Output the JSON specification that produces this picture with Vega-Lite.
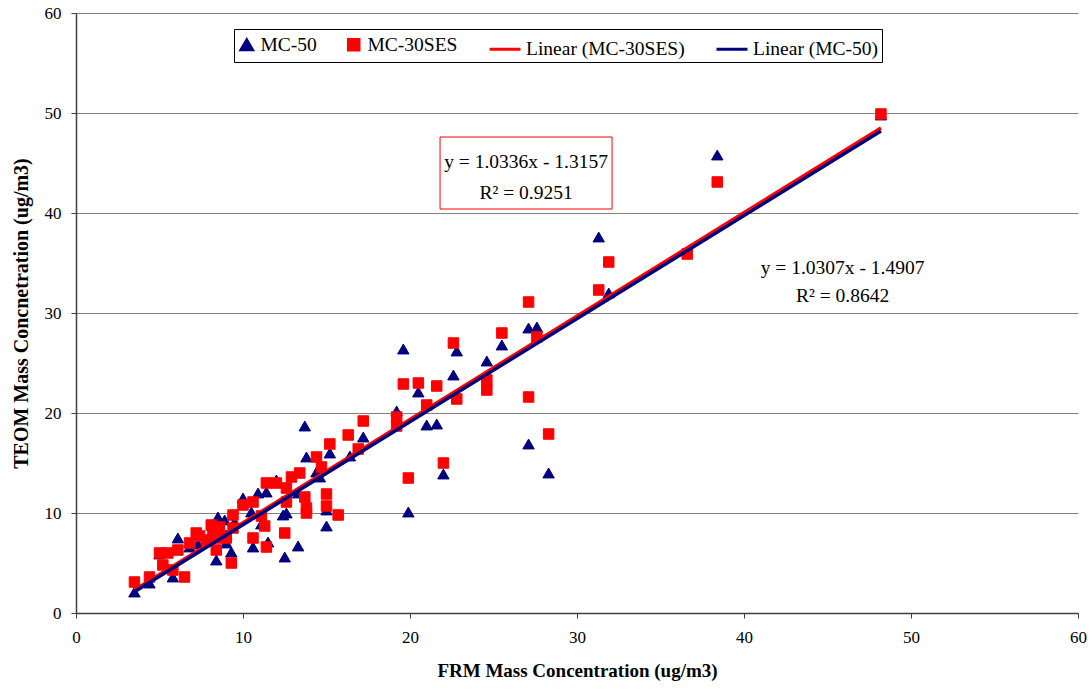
{
  "$schema": "https://vega.github.io/schema/vega-lite/v6.json",
  "width": 1002,
  "height": 600,
  "autosize": "none",
  "padding": {"left": 76, "top": 13, "right": 14, "bottom": 79},
  "background": "white",
  "config": {
    "font": "Liberation Serif",
    "view": {"stroke": null},
    "legend": {
      "orient": "none",
      "legendX": 158,
      "legendY": 16,
      "direction": "horizontal",
      "title": null,
      "strokeColor": "black",
      "fillColor": "white",
      "padding": 3,
      "labelFont": "Liberation Serif",
      "labelFontSize": 19.5,
      "labelColor": "black",
      "labelOffset": 4,
      "columnPadding": 25,
      "symbolStrokeWidth": 3,
      "symbolOpacity": 1
    }
  },
  "datasets": {
    "points": [
      {"series": "MC-50", "frm": 3.5, "teom": 2.1},
      {"series": "MC-50", "frm": 4.4, "teom": 3.0},
      {"series": "MC-50", "frm": 5.0, "teom": 5.9},
      {"series": "MC-50", "frm": 5.8, "teom": 3.6},
      {"series": "MC-50", "frm": 6.1, "teom": 7.5},
      {"series": "MC-50", "frm": 6.8, "teom": 6.6},
      {"series": "MC-50", "frm": 7.3, "teom": 6.9},
      {"series": "MC-50", "frm": 8.5, "teom": 9.6},
      {"series": "MC-50", "frm": 8.9, "teom": 9.3},
      {"series": "MC-50", "frm": 9.5, "teom": 9.1},
      {"series": "MC-50", "frm": 8.4, "teom": 5.3},
      {"series": "MC-50", "frm": 9.3, "teom": 6.1},
      {"series": "MC-50", "frm": 9.0, "teom": 7.0},
      {"series": "MC-50", "frm": 9.0, "teom": 7.8},
      {"series": "MC-50", "frm": 10.0, "teom": 11.5},
      {"series": "MC-50", "frm": 10.5, "teom": 10.1},
      {"series": "MC-50", "frm": 10.6, "teom": 6.6},
      {"series": "MC-50", "frm": 11.1, "teom": 8.9},
      {"series": "MC-50", "frm": 10.9, "teom": 12.0},
      {"series": "MC-50", "frm": 11.4, "teom": 12.1},
      {"series": "MC-50", "frm": 11.5, "teom": 7.1},
      {"series": "MC-50", "frm": 12.0, "teom": 13.3},
      {"series": "MC-50", "frm": 12.4, "teom": 9.8},
      {"series": "MC-50", "frm": 12.6, "teom": 10.0},
      {"series": "MC-50", "frm": 12.5, "teom": 5.6},
      {"series": "MC-50", "frm": 13.3, "teom": 12.0},
      {"series": "MC-50", "frm": 13.3, "teom": 6.7},
      {"series": "MC-50", "frm": 13.7, "teom": 18.7},
      {"series": "MC-50", "frm": 13.8, "teom": 15.6},
      {"series": "MC-50", "frm": 14.4, "teom": 14.1},
      {"series": "MC-50", "frm": 14.6, "teom": 13.6},
      {"series": "MC-50", "frm": 15.0, "teom": 10.3},
      {"series": "MC-50", "frm": 15.0, "teom": 8.7},
      {"series": "MC-50", "frm": 15.2, "teom": 16.0},
      {"series": "MC-50", "frm": 16.4, "teom": 15.7},
      {"series": "MC-50", "frm": 17.2, "teom": 17.6},
      {"series": "MC-50", "frm": 19.2, "teom": 20.2},
      {"series": "MC-50", "frm": 19.6, "teom": 26.4},
      {"series": "MC-50", "frm": 19.9, "teom": 10.1},
      {"series": "MC-50", "frm": 20.5, "teom": 22.1},
      {"series": "MC-50", "frm": 21.0, "teom": 18.8},
      {"series": "MC-50", "frm": 21.6, "teom": 18.9},
      {"series": "MC-50", "frm": 22.0, "teom": 13.9},
      {"series": "MC-50", "frm": 22.8, "teom": 26.2},
      {"series": "MC-50", "frm": 22.6, "teom": 23.8},
      {"series": "MC-50", "frm": 24.6, "teom": 25.2},
      {"series": "MC-50", "frm": 25.5, "teom": 26.8},
      {"series": "MC-50", "frm": 27.1, "teom": 16.9},
      {"series": "MC-50", "frm": 27.1, "teom": 28.5},
      {"series": "MC-50", "frm": 27.6, "teom": 28.6},
      {"series": "MC-50", "frm": 28.3, "teom": 14.0},
      {"series": "MC-50", "frm": 31.3, "teom": 37.6},
      {"series": "MC-50", "frm": 31.9, "teom": 32.0},
      {"series": "MC-50", "frm": 38.4, "teom": 45.8},
      {"series": "MC-50", "frm": 48.2, "teom": 49.8},
      {"series": "MC-30SES", "frm": 3.5, "teom": 3.1},
      {"series": "MC-30SES", "frm": 4.4, "teom": 3.6},
      {"series": "MC-30SES", "frm": 5.0, "teom": 6.0},
      {"series": "MC-30SES", "frm": 5.5, "teom": 6.0},
      {"series": "MC-30SES", "frm": 5.2, "teom": 4.8},
      {"series": "MC-30SES", "frm": 5.8, "teom": 4.3},
      {"series": "MC-30SES", "frm": 6.5, "teom": 3.6},
      {"series": "MC-30SES", "frm": 6.1, "teom": 6.3},
      {"series": "MC-30SES", "frm": 6.8, "teom": 7.0},
      {"series": "MC-30SES", "frm": 7.2, "teom": 8.0},
      {"series": "MC-30SES", "frm": 7.4, "teom": 7.7},
      {"series": "MC-30SES", "frm": 7.8, "teom": 7.3},
      {"series": "MC-30SES", "frm": 8.1, "teom": 8.8},
      {"series": "MC-30SES", "frm": 8.2, "teom": 8.0},
      {"series": "MC-30SES", "frm": 8.5, "teom": 7.5},
      {"series": "MC-30SES", "frm": 8.4, "teom": 6.3},
      {"series": "MC-30SES", "frm": 8.6, "teom": 8.6},
      {"series": "MC-30SES", "frm": 9.3, "teom": 5.0},
      {"series": "MC-30SES", "frm": 9.4, "teom": 9.8},
      {"series": "MC-30SES", "frm": 9.4, "teom": 8.5},
      {"series": "MC-30SES", "frm": 9.0, "teom": 7.5},
      {"series": "MC-30SES", "frm": 10.0, "teom": 10.8},
      {"series": "MC-30SES", "frm": 10.6, "teom": 11.1},
      {"series": "MC-30SES", "frm": 10.6, "teom": 7.5},
      {"series": "MC-30SES", "frm": 11.1, "teom": 9.7},
      {"series": "MC-30SES", "frm": 11.3, "teom": 8.7},
      {"series": "MC-30SES", "frm": 11.4, "teom": 13.0},
      {"series": "MC-30SES", "frm": 11.4, "teom": 6.6},
      {"series": "MC-30SES", "frm": 12.0, "teom": 13.0},
      {"series": "MC-30SES", "frm": 12.5, "teom": 8.0},
      {"series": "MC-30SES", "frm": 12.6, "teom": 12.5},
      {"series": "MC-30SES", "frm": 12.6, "teom": 11.1},
      {"series": "MC-30SES", "frm": 12.9, "teom": 13.6},
      {"series": "MC-30SES", "frm": 13.4, "teom": 14.0},
      {"series": "MC-30SES", "frm": 13.7, "teom": 11.6},
      {"series": "MC-30SES", "frm": 13.8, "teom": 10.5},
      {"series": "MC-30SES", "frm": 13.8, "teom": 10.0},
      {"series": "MC-30SES", "frm": 14.4, "teom": 15.6},
      {"series": "MC-30SES", "frm": 14.7, "teom": 14.6},
      {"series": "MC-30SES", "frm": 15.0, "teom": 11.9},
      {"series": "MC-30SES", "frm": 15.0, "teom": 10.7},
      {"series": "MC-30SES", "frm": 15.2, "teom": 16.9},
      {"series": "MC-30SES", "frm": 15.7, "teom": 9.8},
      {"series": "MC-30SES", "frm": 16.3, "teom": 17.8},
      {"series": "MC-30SES", "frm": 16.9, "teom": 16.4},
      {"series": "MC-30SES", "frm": 17.2, "teom": 19.2},
      {"series": "MC-30SES", "frm": 19.2, "teom": 19.6},
      {"series": "MC-30SES", "frm": 19.2, "teom": 18.7},
      {"series": "MC-30SES", "frm": 19.6, "teom": 22.9},
      {"series": "MC-30SES", "frm": 19.9, "teom": 13.5},
      {"series": "MC-30SES", "frm": 20.5, "teom": 23.0},
      {"series": "MC-30SES", "frm": 21.0, "teom": 20.8},
      {"series": "MC-30SES", "frm": 21.6, "teom": 22.7},
      {"series": "MC-30SES", "frm": 22.0, "teom": 15.0},
      {"series": "MC-30SES", "frm": 22.6, "teom": 27.0},
      {"series": "MC-30SES", "frm": 22.8, "teom": 21.4},
      {"series": "MC-30SES", "frm": 24.6, "teom": 23.3},
      {"series": "MC-30SES", "frm": 24.6, "teom": 22.3},
      {"series": "MC-30SES", "frm": 25.5, "teom": 28.0},
      {"series": "MC-30SES", "frm": 27.1, "teom": 21.6},
      {"series": "MC-30SES", "frm": 27.1, "teom": 31.1},
      {"series": "MC-30SES", "frm": 27.6, "teom": 27.6},
      {"series": "MC-30SES", "frm": 28.3, "teom": 17.9},
      {"series": "MC-30SES", "frm": 31.3, "teom": 32.3},
      {"series": "MC-30SES", "frm": 31.9, "teom": 35.1},
      {"series": "MC-30SES", "frm": 36.6, "teom": 35.9},
      {"series": "MC-30SES", "frm": 38.4, "teom": 43.1},
      {"series": "MC-30SES", "frm": 48.2, "teom": 49.9}
    ],
    "trend": [
      {"series": "Linear (MC-30SES)", "frm": 3.5, "teom": 2.30},
      {"series": "Linear (MC-30SES)", "frm": 48.2, "teom": 48.50},
      {"series": "Linear (MC-50)", "frm": 3.5, "teom": 2.12},
      {"series": "Linear (MC-50)", "frm": 48.2, "teom": 48.19}
    ],
    "one": [{}]
  },
  "layer": [
    {
      "data": {"name": "points"},
      "mark": {"type": "point", "filled": true, "opacity": 1, "strokeWidth": 1},
      "encoding": {
        "x": {
          "field": "frm", "type": "quantitative",
          "scale": {"domain": [0, 60], "nice": false, "zero": false},
          "axis": {
            "title": "FRM Mass Concentration (ug/m3)",
            "values": [0, 10, 20, 30, 40, 50, 60],
            "grid": false,
            "domainColor": "#404040", "domainWidth": 1.5,
            "tickColor": "#404040", "tickSize": 5,
            "labelFont": "Liberation Serif", "labelFontSize": 17, "labelColor": "black",
            "labelPadding": 11, "labelFlush": false,
            "titleFont": "Liberation Serif", "titleFontSize": 19, "titleFontWeight": "bold",
            "titleColor": "black", "titlePadding": 16
          }
        },
        "y": {
          "field": "teom", "type": "quantitative",
          "scale": {"domain": [0, 60], "nice": false, "zero": false},
          "axis": {
            "title": "TEOM Mass Concnetration (ug/m3)",
            "values": [0, 10, 20, 30, 40, 50, 60],
            "grid": true, "gridColor": "#808080", "gridWidth": 1,
            "domainColor": "#404040", "domainWidth": 1.5,
            "tickColor": "#404040", "tickSize": 5,
            "labelFont": "Liberation Serif", "labelFontSize": 17, "labelColor": "black",
            "labelPadding": 10, "labelFlush": false,
            "titleFont": "Liberation Serif", "titleFontSize": 20, "titleFontWeight": "bold",
            "titleColor": "black", "titlePadding": 13
          }
        },
        "fill": {
          "field": "series", "type": "nominal",
          "scale": {"domain": ["MC-50", "MC-30SES", "Linear (MC-30SES)", "Linear (MC-50)"], "range": ["#000080", "#FF0000", "#FF0000", "#000080"]}
        },
        "stroke": {
          "field": "series", "type": "nominal",
          "scale": {"domain": ["MC-50", "MC-30SES", "Linear (MC-30SES)", "Linear (MC-50)"], "range": ["#000080", "#FF0000", "#FF0000", "#000080"]}
        },
        "shape": {
          "field": "series", "type": "nominal",
          "scale": {"domain": ["MC-50", "MC-30SES", "Linear (MC-30SES)", "Linear (MC-50)"], "range": ["triangle-up", "square", "stroke", "stroke"]}
        },
        "size": {
          "field": "series", "type": "nominal",
          "scale": {"type": "ordinal", "domain": ["MC-50", "MC-30SES", "Linear (MC-30SES)", "Linear (MC-50)"], "range": [130, 110, 961, 961]}
        },
        "order": {"field": "series", "sort": "descending"}
      }
    },
    {
      "data": {"name": "trend"},
      "mark": {"type": "line", "strokeWidth": 3.5},
      "encoding": {
        "x": {"field": "frm", "type": "quantitative"},
        "y": {"field": "teom", "type": "quantitative"},
        "stroke": {
          "field": "series", "type": "nominal",
          "scale": {"domain": ["MC-50", "MC-30SES", "Linear (MC-30SES)", "Linear (MC-50)"], "range": ["#000080", "#FF0000", "#FF0000", "#000080"]}
        }
      }
    },
    {
      "data": {"name": "one"},
      "mark": {"type": "rect", "fill": "white", "stroke": "#FF0000", "strokeWidth": 1},
      "encoding": {
        "x": {"datum": 21.8, "type": "quantitative"},
        "x2": {"datum": 32.1},
        "y": {"datum": 47.6, "type": "quantitative"},
        "y2": {"datum": 40.4}
      }
    },
    {
      "data": {"name": "one"},
      "mark": {"type": "text", "text": "y = 1.0336x - 1.3157", "font": "Liberation Serif", "fontSize": 19.5, "color": "black", "align": "center", "baseline": "middle"},
      "encoding": {"x": {"datum": 26.95, "type": "quantitative"}, "y": {"datum": 45.1, "type": "quantitative"}}
    },
    {
      "data": {"name": "one"},
      "mark": {"type": "text", "text": "R² = 0.9251", "font": "Liberation Serif", "fontSize": 19.5, "color": "black", "align": "center", "baseline": "middle"},
      "encoding": {"x": {"datum": 26.95, "type": "quantitative"}, "y": {"datum": 42.0, "type": "quantitative"}}
    },
    {
      "data": {"name": "one"},
      "mark": {"type": "text", "text": "y = 1.0307x - 1.4907", "font": "Liberation Serif", "fontSize": 19.5, "color": "black", "align": "center", "baseline": "middle"},
      "encoding": {"x": {"datum": 45.9, "type": "quantitative"}, "y": {"datum": 34.5, "type": "quantitative"}}
    },
    {
      "data": {"name": "one"},
      "mark": {"type": "text", "text": "R² = 0.8642", "font": "Liberation Serif", "fontSize": 19.5, "color": "black", "align": "center", "baseline": "middle"},
      "encoding": {"x": {"datum": 45.9, "type": "quantitative"}, "y": {"datum": 31.7, "type": "quantitative"}}
    }
  ]
}
